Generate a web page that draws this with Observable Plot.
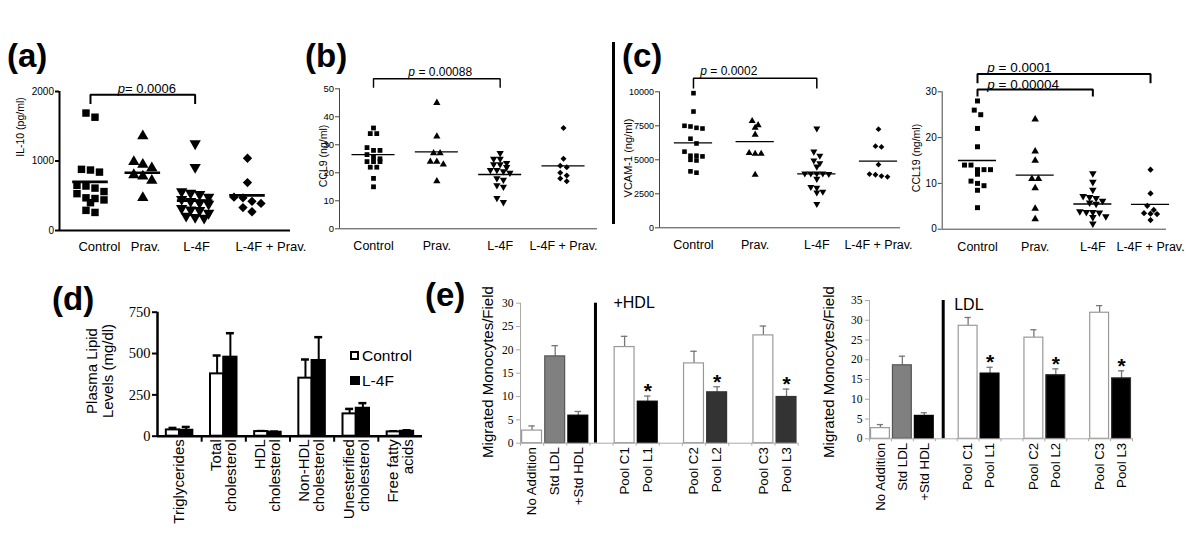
<!DOCTYPE html>
<html><head><meta charset="utf-8">
<script src="https://cdn.jsdelivr.net/npm/d3@7"></script>
<script src="https://cdn.jsdelivr.net/npm/@observablehq/plot@0.6"></script>
<style>
body{margin:0;background:#fff;}
#root{position:relative;width:1200px;height:553px;overflow:hidden;background:#fff;font-family:"Liberation Sans",Arial,sans-serif;color:#000;}
.letter{position:absolute;font-weight:bold;font-size:33px;line-height:1;white-space:nowrap;}
.ylab{position:absolute;white-space:nowrap;transform:translate(-50%,-50%) rotate(-90deg);line-height:1;text-align:center;}
.leg{position:absolute;font-size:15.5px;line-height:1;white-space:nowrap;}
.sq{position:absolute;box-sizing:border-box;border:2px solid #000;}
</style></head><body><div id="root"></div>
<script>
// ---------- DATA ----------
const groups = ["Control", "Prav.", "L-4F", "L-4F + Prav."];

const il10 = [
  [1690, 1630, 880, 870, 840, 650, 640, 610, 560, 530, 470, 460, 440, 400, 290, 260],
  [1360, 990, 950, 900, 800, 780, 720, 470],
  [1250, 910, 560, 540, 520, 480, 450, 420, 400, 380, 320, 300, 290, 250, 210, 190, 180],
  [1040, 690, 480, 470, 420, 390, 330, 270]
];
const il10Means = [700, 830, 430, 505];

const ccl9 = [
  [36, 34, 34, 29, 28, 28, 26.5, 25.5, 25, 24, 24, 24, 22, 22, 18, 15],
  [45, 33, 27, 27, 24, 24, 23, 17],
  [27, 25, 25, 23.5, 23, 23, 22, 21, 21, 20.5, 20, 18, 17.5, 15.5, 15, 11, 9.5],
  [36, 25, 22.5, 22, 20, 19, 18, 17]
];
const ccl9Means = [26.5, 27.5, 19.4, 22.5];

const vcam = [
  [9900, 8550, 7500, 7450, 7350, 7300, 6550, 6200, 5600, 5300, 5300, 5250, 5000, 4950, 4150, 4050],
  [7850, 7550, 7350, 6850, 5500, 5450, 5450, 3900],
  [7300, 5600, 5300, 4950, 4750, 4500, 4000, 4000, 4000, 4000, 3950, 3600, 3000, 2950, 2650, 2600, 1750],
  [7250, 6000, 5950, 4650, 3950, 3900, 3800, 3750]
];
const vcamMeans = [6250, 6330, 3970, 4900];

const ccl19 = [
  [28, 26, 25, 22, 18, 14, 14, 13, 13, 13, 12, 10.5, 10, 9.5, 8.5, 4.7],
  [24, 17, 15, 11, 11, 9, 4.5, 2.2],
  [12.2, 10.3, 8.6, 7.2, 7.0, 6.8, 6.2, 5.8, 5.5, 3.9, 3.7, 3.7, 3.6, 2.8, 2.6, 1.2],
  [13, 7.8, 5.1, 4.2, 3.5, 3.4, 3.3, 2.0]
];
const ccl19Means = [15, 11.8, 5.5, 5.4];

// lipid panel (d)
const lipidCats = ["Triglycerides", "Total\ncholesterol", "HDL\ncholesterol", "Non-HDL\ncholesterol", "Unesterified\ncholesterol", "Free fatty\nacids"];
const lipidControl = [38, 377, 28, 351, 135, 26];
const lipidControlErr = [12, 111, 3, 113, 30, 4];
const lipidL4F = [36, 478, 24, 458, 169, 30];
const lipidL4FErr = [20, 145, 4, 141, 31, 6];

// migration panels (e)
const eNames = ["No Addition", "Std LDL", "+Std HDL", "Pool C1", "Pool L1", "Pool C2", "Pool L2", "Pool C3", "Pool L3"];
const eGroupSizes = [3, 2, 2, 2];
const hdlValues = [2.7, 18.6, 5.9, 20.6, 8.9, 17.1, 10.9, 23.1, 9.9];
const hdlErrors = [1.0, 2.3, 0.9, 2.3, 1.2, 2.6, 1.2, 2.0, 1.7];
const ldlValues = [2.7, 18.6, 5.8, 28.6, 16.5, 25.6, 16.1, 31.9, 15.3];
const ldlErrors = [0.9, 2.3, 0.8, 2.1, 1.6, 2.0, 1.6, 1.8, 1.9];
const eSignificant = [false, false, false, false, true, false, true, false, true];

// ---------- STYLES ----------
const SANS = "Liberation Sans, Arial, sans-serif";
const SERIF = "Liberation Serif, Times New Roman, serif";
const hdlFills = ["#fff", "#808080", "#000", "#fff", "#000", "#fff", "#333", "#fff", "#333"];
const ldlFills = ["#fff", "#808080", "#000", "#fff", "#000", "#fff", "#000", "#fff", "#000"];
const eStrokes = ["#999", "#555", "#000", "#999", "#000", "#999", "#333", "#999", "#333"];

const root = document.getElementById("root");
function place(el, left, top) {
  el.style.position = "absolute";
  el.style.left = left + "px";
  el.style.top = top + "px";
  el.style.overflow = "visible";
  root.appendChild(el);
}
function html(cls, text, css) {
  const d = document.createElement("div");
  d.className = cls;
  d.textContent = text;
  Object.assign(d.style, css);
  root.appendChild(d);
  return d;
}

const sqrt3 = Math.sqrt(3);
const triangleDown = {
  draw(ctx, size) {
    const y = -Math.sqrt(size / (sqrt3 * 3));
    ctx.moveTo(0, -y * 2);
    ctx.lineTo(-sqrt3 * y, y);
    ctx.lineTo(sqrt3 * y, y);
    ctx.closePath();
  }
};
const symbols = ["square", "triangle", triangleDown, "diamond2"];

// arrange points of one group in rows (GraphPad-like scatter)
function rowOffsets(vals, yPx, d) {
  const idx = vals.map((_, i) => i).sort((a, b) => vals[b] - vals[a]);
  const off = new Array(vals.length).fill(0);
  let row = [];
  const flush = () => { row.forEach((i, j) => off[i] = (j - (row.length - 1) / 2) * d); row = []; };
  for (const i of idx) {
    if (row.length && (vals[row[0]] - vals[i]) * yPx > d * 0.8) flush();
    row.push(i);
  }
  flush();
  return off;
}

function scatter(c) {
  const yPx = (c.height - c.mt - c.mb) / (c.yDomain[1] - c.yDomain[0]);
  const xPx = (c.width - c.ml - c.mr) / (c.xDomain[1] - c.xDomain[0]);
  const marks = [];
  c.data.forEach((vals, g) => {
    const off = rowOffsets(vals, yPx, c.d);
    const pts = vals.map((v, i) => ({x: g + off[i] / xPx, y: v}));
    marks.push(Plot.dot(pts, {x: "x", y: "y", r: c.r, symbol: symbols[g], fill: "#000", stroke: "none"}));
  });
  marks.push(Plot.ruleY(c.means, {y: m => m, x1: (m, i) => i - c.meanHalf, x2: (m, i) => i + c.meanHalf, stroke: "#000", strokeWidth: c.meanW}));
  marks.push(Plot.ruleY([c.yDomain[0]], {stroke: c.axisColor, strokeWidth: c.axisW}));
  marks.push(Plot.ruleX([c.xDomain[0]], {stroke: c.axisColor, strokeWidth: c.axisW}));
  marks.push(Plot.axisY({ticks: c.yTicks, tickSize: 4, tickPadding: 1.5, fontSize: c.tickFs, label: null, stroke: c.axisColor, strokeWidth: c.axisW, tickFormat: v => String(v)}));
  marks.push(Plot.axisX({ticks: d3.range(groups.length), tickFormat: i => groups[i], tickSize: 0, tickPadding: c.catPad, fontSize: c.catFs, label: null,
    textAnchor: c.catAnchor || "middle", dx: c.catDx || 0}));
  for (const b of c.brackets) {
    const pts = [[b.from, b.y - b.drop], [b.from, b.y], [b.to, b.y], [b.to, b.y - b.drop]];
    marks.push(Plot.line(pts, {x: p => p[0], y: p => p[1], stroke: "#000", strokeWidth: b.w, strokeLinejoin: "miter", strokeLinecap: "square"}));
    marks.push(Plot.text([b], {x: "tx", y: "y", text: () => "p", fontStyle: "italic", textAnchor: "start", lineAnchor: "bottom", dy: b.dy, fontSize: c.pFs}));
    marks.push(Plot.text([b], {x: "tx", y: "y", text: "label", textAnchor: "start", lineAnchor: "bottom", dy: b.dy, dx: c.pFs * 0.56, fontSize: c.pFs}));
  }
  const svg = Plot.plot({
    width: c.width, height: c.height,
    marginTop: c.mt, marginBottom: c.mb, marginLeft: c.ml, marginRight: c.mr,
    x: {type: "linear", domain: c.xDomain},
    y: {domain: c.yDomain},
    style: {fontFamily: SANS, fontSize: "10px", color: "#000", background: "transparent"},
    marks
  });
  place(svg, c.left, c.top);
}

// (a) IL-10
scatter({
  data: il10, means: il10Means, left: 0, top: 0, width: 300, height: 265,
  mt: 91, mb: 35, ml: 59, mr: 10, xDomain: [-0.592, 3.822], yDomain: [0, 2000], yTicks: [0, 1000, 2000],
  r: 4.2, d: 9, meanHalf: 0.34, meanW: 2.6, axisW: 2, axisColor: "#000", tickFs: 10, catFs: 13, catPad: 11, pFs: 13,
  catAnchor: "start", catDx: -12,
  brackets: [{from: 0, to: 2, y: 1953, drop: 120, w: 2, tx: 0.52, dy: -2, label: "= 0.0006"}]
});
// (b) CCL9
scatter({
  data: ccl9, means: ccl9Means, left: 300, top: 0, width: 305, height: 265,
  mt: 88.3, mb: 36.7, ml: 39, mr: 8, xDomain: [-0.537, 3.537], yDomain: [0, 50], yTicks: [0, 10, 20, 30, 40, 50],
  r: 2.7, d: 6.5, meanHalf: 0.34, meanW: 1.3, axisW: 1, axisColor: "#444", tickFs: 9.5, catFs: 12.5, catPad: 12, pFs: 12,
  brackets: [{from: 0, to: 2, y: 53.6, drop: 3, w: 1.4, tx: 0.55, dy: -3, label: " = 0.00088"}]
});
// (c) VCAM-1
scatter({
  data: vcam, means: vcamMeans, left: 615, top: 0, width: 295, height: 265,
  mt: 91.3, mb: 37.7, ml: 44, mr: 10, xDomain: [-0.551, 3.357], yDomain: [0, 10000], yTicks: [0, 2500, 5000, 7500, 10000],
  r: 2.6, d: 6, meanHalf: 0.31, meanW: 1.3, axisW: 1, axisColor: "#444", tickFs: 9, catFs: 12.5, catPad: 12.5, pFs: 12,
  brackets: [{from: 0, to: 2, y: 11000, drop: 706, w: 1.5, tx: 0.11, dy: -3, label: " = 0.0002"}]
});
// (c) CCL19
scatter({
  data: ccl19, means: ccl19Means, left: 910, top: 0, width: 290, height: 265,
  mt: 91.3, mb: 36.3, ml: 31.7, mr: 34, xDomain: [-0.612, 3.277], yDomain: [0, 30], yTicks: [0, 10, 20, 30],
  r: 2.8, d: 6.5, meanHalf: 0.33, meanW: 1.3, axisW: 1, axisColor: "#444", tickFs: 10, catFs: 12.5, catPad: 12.5, pFs: 13.5,
  brackets: [
    {from: 0, to: 3, y: 33.9, drop: 1.8, w: 2, tx: 0.17, dy: -2, label: " = 0.0001"},
    {from: 0, to: 2, y: 30.5, drop: 1.3, w: 2, tx: 0.17, dy: -1, label: " = 0.00004"}
  ]
});

// (d) lipids
{
  const data = lipidCats.map((c, i) => ({i, c, ctl: lipidControl[i], ctlE: lipidControlErr[i], l4f: lipidL4F[i], l4fE: lipidL4FErr[i]}));
  const bw = 0.3, cap = 0.09;
  const svg = Plot.plot({
    width: 430, height: 268, marginTop: 26.7, marginBottom: 117.3, marginLeft: 157, marginRight: 8,
    x: {type: "linear", domain: [-0.5, 5.5]},
    y: {domain: [0, 750]},
    style: {fontFamily: SANS, fontSize: "15px", color: "#000", background: "transparent"},
    marks: [
      Plot.ruleX(data, {x: d => d.i - bw / 2, y1: "ctl", y2: d => d.ctl + d.ctlE, stroke: "#000", strokeWidth: 2}),
      Plot.ruleY(data, {y: d => d.ctl + d.ctlE, x1: d => d.i - bw / 2 - cap, x2: d => d.i - bw / 2 + cap, stroke: "#000", strokeWidth: 2.5}),
      Plot.ruleX(data, {x: d => d.i + bw / 2, y1: "l4f", y2: d => d.l4f + d.l4fE, stroke: "#000", strokeWidth: 2}),
      Plot.ruleY(data, {y: d => d.l4f + d.l4fE, x1: d => d.i + bw / 2 - cap, x2: d => d.i + bw / 2 + cap, stroke: "#000", strokeWidth: 2.5}),
      Plot.rect(data, {x1: d => d.i - bw, x2: d => d.i, y1: 0, y2: "ctl", fill: "#fff", stroke: "#000", strokeWidth: 2}),
      Plot.rect(data, {x1: d => d.i, x2: d => d.i + bw, y1: 0, y2: "l4f", fill: "#000", stroke: "#000", strokeWidth: 2}),
      Plot.ruleY([0], {stroke: "#000", strokeWidth: 2.5}),
      Plot.ruleX([-0.5], {stroke: "#000", strokeWidth: 2.5}),
      Plot.axisY({ticks: [0, 250, 500, 750], tickSize: 5, tickPadding: 2, strokeWidth: 2, fontFamily: SERIF, fontSize: 14.5, label: null, tickFormat: v => String(v)}),
      Plot.axisX({ticks: d3.range(lipidCats.length), tickFormat: i => lipidCats[i], tickRotate: -90, tickSize: 0, tickPadding: 3, fontSize: 15, label: null}),
      Plot.axisX({ticks: d3.range(0.5, lipidCats.length - 0.5, 1), tickFormat: () => "", tickSize: 6, strokeWidth: 2, label: null})
    ]
  });
  place(svg, 0, 285);
}

// (e) migration panels
function positions() {
  const pos = [];
  let p = 0;
  eGroupSizes.forEach((n) => {
    for (let k = 0; k < n; k++) pos.push(p++);
    p++; // gap slot between groups
  });
  return pos;
}
function ePanel(c) {
  const pos = positions();
  const data = c.values.map((v, k) => ({pos: pos[k], v, e: c.errors[k], name: eNames[k], fill: c.fills[k], stroke: eStrokes[k], star: eSignificant[k]}));
  const nameAt = new Map(data.map(d => [d.pos, d.name]));
  const sep = eGroupSizes[0];
  const last = pos[pos.length - 1];
  const svg = Plot.plot({
    width: c.width, height: c.height, marginTop: c.mt, marginBottom: c.mb, marginLeft: c.ml, marginRight: c.mr,
    x: {type: "linear", domain: [-0.5, last + 0.5]},
    y: {domain: [0, c.yMax]},
    color: {type: "identity"},
    style: {fontFamily: SANS, fontSize: "13px", color: "#000", background: "transparent"},
    marks: [
      Plot.ruleX(data, {x: "pos", y1: "v", y2: d => d.v + d.e, stroke: "#777", strokeWidth: 1.3}),
      Plot.ruleY(data, {y: d => d.v + d.e, x1: d => d.pos - 0.14, x2: d => d.pos + 0.14, stroke: "#777", strokeWidth: 1.3}),
      Plot.rect(data, {x1: d => d.pos - 0.43, x2: d => d.pos + 0.43, y1: 0, y2: "v", fill: d => d.fill, stroke: d => d.stroke, strokeWidth: 1.2}),
      Plot.text(data.filter(d => d.star), {x: "pos", y: d => d.v + d.e, text: () => "*", fontSize: 21, fontWeight: "bold", lineAnchor: "bottom", dy: 2}),
      Plot.ruleX([sep], {dx: c.sepDx, stroke: "#000", strokeWidth: 3}),
      Plot.text([c.label], {x: sep, y: c.labelY, text: d => d, dx: c.labelDx, textAnchor: "start", lineAnchor: "middle", fontSize: 16}),
      Plot.ruleY([0], {stroke: "#aaa", strokeWidth: 1}),
      Plot.ruleX([-0.5], {stroke: "#aaa", strokeWidth: 1}),
      Plot.axisY({ticks: c.yTicks, tickSize: 4, tickPadding: 3, stroke: "#aaa", fontFamily: SERIF, fontSize: 11.5, label: null, tickFormat: v => String(v)}),
      Plot.axisX({ticks: pos, tickFormat: p => nameAt.get(p), tickRotate: -90, tickSize: 0, tickPadding: 4, fontSize: 13.3, label: null}),
      Plot.axisX({ticks: d3.range(-0.5, last + 1, 1), tickFormat: () => "", tickSize: 3, stroke: "#aaa", label: null})
    ]
  });
  place(svg, c.left, c.top);
}
ePanel({values: hdlValues, errors: hdlErrors, fills: hdlFills, label: "+HDL", labelY: 30, labelDx: 12, sepDx: -6,
  yMax: 30, yTicks: d3.range(0, 31, 5), left: 420, top: 280, width: 390, height: 273, mt: 22.7, mb: 110.3, ml: 100, mr: 12.4});
ePanel({values: ldlValues, errors: ldlErrors, fills: ldlFills, label: "LDL", labelY: 34, labelDx: 8, sepDx: -3,
  yMax: 35, yTicks: d3.range(0, 36, 5), left: 810, top: 280, width: 390, height: 273, mt: 20, mb: 114.7, ml: 59, mr: 68});

// ---------- text overlays ----------
html("letter", "(a)", {left: "7px", top: "39px"});
html("letter", "(b)", {left: "305px", top: "39px"});
html("letter", "(c)", {left: "622px", top: "39px"});
html("letter", "(d)", {left: "52px", top: "282px"});
html("letter", "(e)", {left: "425px", top: "278px"});

html("ylab", "IL-10 (pg/ml)", {left: "20px", top: "127px", fontSize: "10.5px"});
html("ylab", "CCL9 (ng/ml)", {left: "323px", top: "156px", fontSize: "10.5px"});
html("ylab", "VCAM-1 (ng/ml)", {left: "628px", top: "158px", fontSize: "11px"});
html("ylab", "CCL19 (ng/ml)", {left: "916px", top: "158px", fontSize: "10.5px"});
const dl = html("ylab", "", {left: "100px", top: "371px", fontSize: "15px", lineHeight: "16px"});
dl.innerHTML = "Plasma Lipid<br>Levels (mg/dl)";
html("ylab", "Migrated Monocytes/Field", {left: "487px", top: "372px", fontSize: "15px"});
html("ylab", "Migrated Monocytes/Field", {left: "828px", top: "372px", fontSize: "15px"});

// separator in (c)
const vline = document.createElement("div");
Object.assign(vline.style, {position: "absolute", left: "612px", top: "42px", width: "2.5px", height: "182px", background: "#000"});
root.appendChild(vline);

// legend (d)
const s1 = document.createElement("div"); s1.className = "sq";
Object.assign(s1.style, {left: "350px", top: "351px", width: "9px", height: "9px", background: "#fff"}); root.appendChild(s1);
const s2 = document.createElement("div"); s2.className = "sq";
Object.assign(s2.style, {left: "350px", top: "376px", width: "10px", height: "9px", background: "#000"}); root.appendChild(s2);
html("leg", "Control", {left: "362px", top: "348px"});
html("leg", "L-4F", {left: "362px", top: "373px"});
</script></body></html>
